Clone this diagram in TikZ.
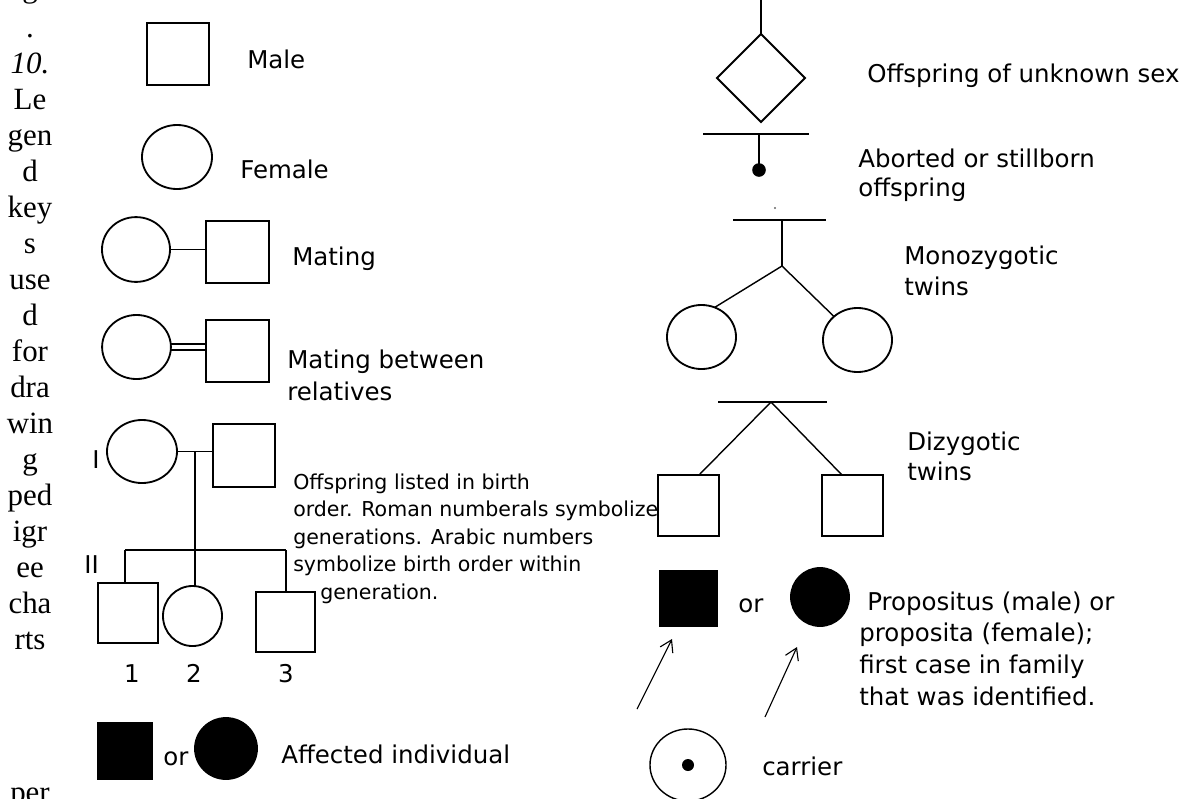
\documentclass[tikz,border=0pt]{standalone}
\usepackage{fontspec}
\setmainfont{Liberation Serif}
\newfontfamily\keyfont{DejaVu Sans}
\usetikzlibrary{arrows.meta,positioning,shapes.geometric,calc}

\tikzset{
  sym/.style={draw, line width=1.3pt, inner sep=0pt, outer sep=0pt},
  male/.style={sym, rectangle, minimum width=1.55cm, minimum height=1.55cm},
  female/.style={sym, ellipse, minimum width=1.72cm, minimum height=1.6cm},
  dot/.style={circle, fill=black, inner sep=0pt, outer sep=0pt, minimum size=0.33cm},
  link/.style={line width=1.3pt},
  twinline/.style={line width=1pt},
  pointer/.style={line width=0.8pt, -{Straight Barb[length=8pt, width=10pt]}},
  keytext/.style={font=\keyfont\fontsize{17.4}{23}\selectfont, anchor=base west, inner sep=0pt},
  smalltext/.style={font=\keyfont\fontsize{14.6}{18}\selectfont, anchor=base west, inner sep=0pt},
  numtext/.style={font=\keyfont\fontsize{17.4}{23}\selectfont, anchor=base, inner sep=0pt},
  captext/.style={font=\fontsize{22}{26}\selectfont, anchor=base, inner sep=0pt},
}

\begin{document}
\begin{tikzpicture}[x=0.025cm, y=-0.025cm]
  \useasboundingbox (0,0) rectangle (1192,798);

  % caption column
  \node[captext] (cap0) at (30,-3) {g};
  \foreach \w [count=\i] in {., \textit{10.}, Le, gen, d, key, s, use, d, for, dra, win, g, ped, igr, ee, cha, rts}
    \node[captext] (cap\i) at (30, {37.05+36.05*(\i-1)}) {\w};
  \node[captext] (capEnd) at (30, 802) {per};

  % single symbols
  \node[male] (male) at (178,54) {};
  \node[keytext] (maleLbl) at (247,68) {Male};
  \node[female, minimum width=1.75cm] (female) at (177,157) {};
  \node[keytext] (femaleLbl) at (240,178) {Female};

  % mating
  \node[female, minimum width=1.7cm, minimum height=1.62cm] (mateF) at (136,249.5) {};
  \node[male, minimum width=1.575cm] (mateM) at (237.5,252) {};
  \draw[link] (mateF.east) -- (mateF.east -| mateM.west);
  \node[keytext] (mateLbl) at (292,265) {Mating};

  % mating between relatives
  \node[female, minimum width=1.72cm] (relF) at (136.5,347) {};
  \node[male, minimum width=1.575cm] (relM) at (237.5,351) {};
  \draw[link] ([yshift=0.08cm]relF.east) -- ([yshift=0.08cm]relF.east -| relM.west);
  \draw[link] ([yshift=-0.08cm]relF.east) -- ([yshift=-0.08cm]relF.east -| relM.west);
  \node[keytext] (relLblA) at (287,368) {Mating between};
  \node[keytext] (relLblB) at (287,400) {relatives};

  % pedigree, generations I and II
  \node[female, minimum width=1.75cm, minimum height=1.575cm] (genIF) at (142,451.5) {};
  \node[male, minimum height=1.575cm] (genIM) at (244,455.5) {};
  \draw[link] (genIF.east) -- (genIF.east -| genIM.west);
  \coordinate (drop) at ($(genIF.east)!0.5!(genIF.east -| genIM.west)$);
  \coordinate (sibL) at (125,550);
  \coordinate (sibR) at (286,550);
  \draw[link] (drop) -- (drop |- sibL);
  \draw[link] (sibL) -- (sibR);
  \node[male, minimum width=1.5cm, minimum height=1.5cm] (sib1) at (128,613) {};
  \node[female, minimum width=1.475cm, minimum height=1.5cm] (sib2) at (192.5,616) {};
  \node[male, minimum width=1.475cm, minimum height=1.5cm] (sib3) at (285.5,622) {};
  \draw[link] (sibL) -- (sibL |- sib1.north);
  \draw[link] (drop |- sibL) -- (drop |- sib2.north);
  \draw[link] (sibR) -- (sibR |- sib3.north);
  \node[numtext] (genI) at (96,468) {I};
  \node[numtext] (genII) at (91.5,573) {II};
  \node[numtext] (num1) at (132,682) {1};
  \node[numtext] (num2) at (194,682) {2};
  \node[numtext] (num3) at (286,682) {3};
  \node[smalltext] (pedA) at (293,489) {Offspring listed in birth};
  \node[smalltext] (pedB) at (293,516.5) {order. Roman numberals symbolize};
  \node[smalltext] (pedC) at (293,544) {generations. Arabic numbers};
  \node[smalltext] (pedD) at (293,571.5) {symbolize birth order within};
  \node[smalltext] (pedE) at (320,599) {generation.};

  % affected
  \node[male, fill=black, minimum width=1.365cm, minimum height=1.4cm] (affM) at (125,751) {};
  \node[keytext] (affOr) at (163,765) {or};
  \node[female, fill=black, minimum width=1.55cm, minimum height=1.525cm] (affF) at (226,748.5) {};
  \node[keytext] (affLbl) at (281,763) {Affected individual};

  % unknown sex
  \node[sym, diamond, minimum width=2.2cm, minimum height=2.2cm] (unk) at (761,78) {};
  \coordinate (unkTop) at (761,-5);
  \draw[link] (unkTop) -- (unk.north);
  \node[keytext] (unkLbl) at (867,82) {Offspring of unknown sex};

  % aborted or stillborn
  \coordinate (abL) at (703,134);
  \coordinate (abR) at (809,134);
  \draw[link] (abL) -- (abR);
  \node[dot, minimum size=0.34cm] (abDot) at (759,170) {};
  \draw[link] (abDot |- abL) -- (abDot.center);
  \node[keytext] (abLblA) at (858,167) {Aborted or stillborn};
  \node[keytext] (abLblB) at (858,196) {offspring};
  \node[dot, fill=black!60, minimum size=0.06cm] (speck) at (775,208) {};

  % monozygotic twins
  \coordinate (mzL) at (733,220);
  \coordinate (mzR) at (826,220);
  \coordinate (mzApex) at (782,266);
  \draw[link] (mzL) -- (mzR);
  \draw[link] (mzApex |- mzL) -- (mzApex);
  \node[female, minimum width=1.725cm] (mz1) at (701.5,337) {};
  \node[female, minimum width=1.725cm] (mz2) at (857.5,340) {};
  \draw[twinline] (mzApex) -- (mz1.66);
  \draw[twinline] (mzApex) -- (mz2.135);
  \node[keytext] (mzLblA) at (904,264) {Monozygotic};
  \node[keytext] (mzLblB) at (904,295) {twins};

  % dizygotic twins
  \coordinate (dzL) at (718,402);
  \coordinate (dzR) at (827,402);
  \coordinate (dzApex) at (771,402);
  \draw[link] (dzL) -- (dzR);
  \node[male, minimum width=1.525cm, minimum height=1.525cm] (dz1) at (688.5,505.5) {};
  \node[male, minimum width=1.525cm, minimum height=1.525cm] (dz2) at (852.5,505.5) {};
  \draw[twinline] (dzApex) -- (dz1.71);
  \draw[twinline] (dzApex) -- (dz2.109);
  \node[keytext] (dzLblA) at (907,450) {Dizygotic};
  \node[keytext] (dzLblB) at (907,480) {twins};

  % propositus / proposita
  \node[male, fill=black, minimum width=1.425cm, minimum height=1.375cm] (probM) at (688.5,598.5) {};
  \node[keytext] (probOr) at (738,612) {or};
  \node[female, fill=black, minimum width=1.45cm, minimum height=1.45cm] (probF) at (820,597) {};
  \coordinate (arrM) at (637,709);
  \coordinate (arrMtip) at (672,639);
  \coordinate (arrF) at (765,717);
  \coordinate (arrFtip) at (797,647);
  \draw[pointer] (arrM) -- (arrMtip);
  \draw[pointer] (arrF) -- (arrFtip);
  \node[keytext] (probLblA) at (867,610) {Propositus (male) or};
  \node[keytext] (probLblB) at (859,641) {proposita (female);};
  \node[keytext] (probLblC) at (859,673) {first case in family};
  \node[keytext] (probLblD) at (859,705) {that was identified.};

  % carrier
  \node[female, line width=1pt, minimum width=1.9cm, minimum height=1.8cm] (carrier) at (688,765) {};
  \node[dot, minimum size=0.3cm] (carrierDot) at (carrier.center) {};
  \node[keytext] (carrierLbl) at (762,775) {carrier};
\end{tikzpicture}
\end{document}
